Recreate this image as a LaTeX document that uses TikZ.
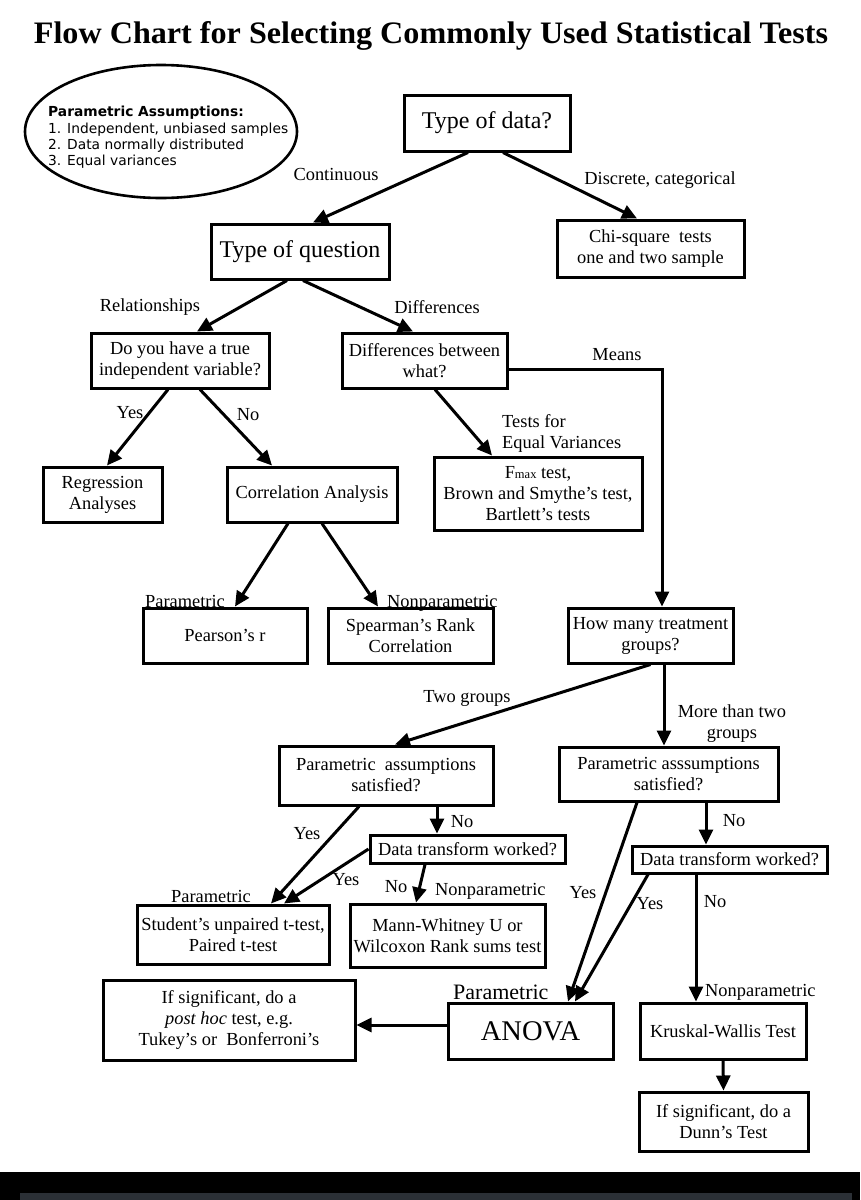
\documentclass[tikz,border=0pt]{standalone}
\usepackage{fontspec}
\setmainfont{Liberation Serif}
\newfontfamily\ellfont{DejaVu Sans}
\usetikzlibrary{arrows.meta,calc}

\definecolor{darkband}{HTML}{2B3036}
\newcommand{\boxfont}{\fontsize{18.4}{21}\selectfont}

\tikzset{
  box/.style={draw, line width=3pt, align=center, inner sep=1pt, fill=white, font=\boxfont},
  lbl/.style={inner sep=0pt, align=center, font=\boxfont},
  arr/.style={line width=3pt, -{Triangle[length=15pt,width=14pt]}},
}

\begin{document}
\begin{tikzpicture}[x=1pt,y=-1pt]
\useasboundingbox (0,0) rectangle (860,1200);

\node (title) at (431,35.5) {\resizebox{794pt}{22pt}{\bfseries Flow Chart for Selecting Commonly Used Statistical Tests}};

% assumptions
\draw[line width=2.6pt] (161,131.5) ellipse [x radius=136, y radius=66.5];
\node[align=left, inner sep=0pt, anchor=west, font=\ellfont\fontsize{13.8}{16.3}\selectfont] (assume) at (48,137.5)
  {\textbf{Parametric Assumptions:}\\1. Independent, unbiased samples\\2. Data normally distributed\\3. Equal variances};

% boxes
\node[box, minimum width=166pt, minimum height=56pt, font=\fontsize{24}{28}\selectfont] (data) at (487,123) {Type of data?};
\node[box, minimum width=178pt, minimum height=55pt, font=\fontsize{24}{28}\selectfont] (question) at (300,251.5) {Type of question};
\node[box, minimum width=187pt, minimum height=57pt] (chi) at (650.5,248.5) {Chi-square\ \ tests\\one and two sample};
\node[box, minimum width=178pt, minimum height=55pt] (truevar) at (180,360.5) {Do you have a true\\independent variable?};
\node[box, minimum width=165pt, minimum height=55pt] (between) at (424.5,360.5) {Differences between\\what?};
\node[box, minimum width=119pt, minimum height=55pt] (regress) at (102.5,494.5) {Regression\\Analyses};
\node[box, minimum width=170pt, minimum height=55pt] (corr) at (312,494.5) {Correlation Analysis};
\node[box, minimum width=208pt, minimum height=73pt] (fmax) at (538,493.5) {F{\fontsize{12.5}{14}\selectfont max} test,\\Brown and Smythe’s test,\\Bartlett’s tests};
\node[box, minimum width=164pt, minimum height=55pt] (pearson) at (225,635.5) {Pearson’s r};
\node[box, minimum width=165pt, minimum height=55pt] (spearman) at (410.5,635.5) {Spearman’s Rank\\Correlation};
\node[box, minimum width=165pt, minimum height=55pt] (howmany) at (650.5,635.5) {How many treatment\\groups?};
\node[box, minimum width=214pt, minimum height=59pt] (assume2) at (386,775.5) {Parametric\ \ assumptions\\satisfied?};
\node[box, minimum width=219pt, minimum height=54pt] (assume3) at (668.5,774) {Parametric asssumptions\\satisfied?};
\node[box, minimum width=195pt, minimum height=28pt] (transf2) at (467.5,849) {Data transform worked?};
\node[box, minimum width=195pt, minimum height=27pt] (transf3) at (729.5,859.5) {Data transform worked?};
\node[box, minimum width=192pt, minimum height=59pt] (student) at (233,934.5) {Student’s unpaired t-test,\\Paired t-test};
\node[box, minimum width=195pt, minimum height=63pt] (mann) at (447.5,935.5) {Mann-Whitney U or\\Wilcoxon Rank sums test};
\node[box, minimum width=252pt, minimum height=80pt] (posthoc) at (229,1020) {If significant, do a\\\textit{post hoc} test, e.g.\\Tukey’s or\ \ Bonferroni’s};
\node[box, minimum width=165pt, minimum height=56pt, font=\fontsize{28.5}{32}\selectfont] (anova) at (530.5,1031) {ANOVA};
\node[box, minimum width=166pt, minimum height=56pt] (kruskal) at (723,1031) {Kruskal-Wallis Test};
\node[box, minimum width=169pt, minimum height=59pt] (dunn) at (723.5,1121.5) {If significant, do a\\Dunn’s Test};

% labels
\node[lbl] (lcont) at (336,174) {Continuous};
\node[lbl] (ldisc) at (660,180) {Discrete, categorical};
\node[lbl] (lrel) at (150,307) {Relationships};
\node[lbl] (ldiff) at (437,307) {Differences};
\node[lbl] (lyes1) at (130,413) {Yes};
\node[lbl] (lno1) at (248,415) {No};
\node[lbl, align=left, anchor=west] (lequal) at (502,433) {Tests for\\Equal Variances};
\node[lbl] (lmeans) at (617,355) {Means};
\node[lbl, anchor=base west] (lpar1) at (145,607) {Parametric};
\node[lbl, anchor=base west] (lnonpar1) at (387,607) {Nonparametric};
\node[lbl] (ltwo) at (467,698) {Two groups};
\node[lbl] (lmore) at (732,724) {More than two\\groups};
\node[lbl] (lno2) at (462,822) {No};
\node[lbl] (lyes2) at (307,834) {Yes};
\node[lbl] (lyes3) at (346,880) {Yes};
\node[lbl] (lno3) at (396,887) {No};
\node[lbl, anchor=west] (lnonpar2) at (435,891) {Nonparametric};
\node[lbl, anchor=base west] (lpar2) at (171,902) {Parametric};
\node[lbl] (lno4) at (734,821) {No};
\node[lbl] (lyes4) at (583,893) {Yes};
\node[lbl] (lyes5) at (650,904) {Yes};
\node[lbl] (lno5) at (715,902) {No};
\node[lbl, anchor=west] (lnonpar3) at (705,992) {Nonparametric};
\node[lbl, anchor=west, font=\fontsize{22}{26}\selectfont] (lpar3) at (453,992) {Parametric};

% connectors
\draw[arr] ($(data.south)+(-19,0)$) -- ($(question.north)+(13,0)$);
\draw[arr] ($(data.south)+(16,0)$) -- ($(chi.north)+(-13.5,0)$);
\draw[arr] ($(question.south)+(-13,0)$) -- ($(truevar.north)+(17,0)$);
\draw[arr] ($(question.south)+(3,0)$) -- ($(between.north)+(-11.5,0)$);
\draw[arr] ($(truevar.south)+(-12,0)$) -- ($(regress.north)+(4.5,0)$);
\draw[arr] ($(truevar.south)+(20,0)$) -- ($(corr.north)+(-40,0)$);
\draw[arr] ($(corr.south)+(-24,0)$) -- ($(pearson.north)+(10,0)$);
\draw[arr] ($(corr.south)+(10,0)$) -- ($(spearman.north)+(-32.5,0)$);
\draw[arr] ($(between.south)+(10.5,0)$) -- ($(fmax.north)+(-46,0)$);
\draw[arr] ($(between.east)+(0,8.5)$) -| ($(howmany.north)+(11.5,0)$);
\draw[arr] (howmany.south) -- ($(assume2.north)+(9,0)$);
\draw[arr] ($(howmany.south)+(13.5,0)$) -- ($(assume3.north)+(-4.5,0)$);
\draw[arr] ($(assume2.south)+(51,0)$) -- ($(transf2.north)+(-30.5,0)$);
\draw[arr] ($(assume2.south)+(-27,0)$) -- ($(student.north)+(38,0)$);
\draw[arr] (transf2.west) -- ($(student.north)+(51,0)$);
\draw[arr] ($(transf2.south)+(-42.5,0)$) -- ($(mann.north)+(-31.5,0)$);
\draw[arr] ($(assume3.south)+(37.5,0)$) -- ($(transf3.north)+(-23.5,0)$);
\draw[arr] ($(assume3.south)+(-31.5,0)$) -- ($(anova.north)+(37.5,0)$);
\draw[arr] ($(transf3.south)+(-81.5,0)$) -- ($(anova.north)+(44.5,0)$);
\draw[arr] ($(transf3.south)+(-33.5,0)$) -- ($(kruskal.north)+(-27,0)$);
\draw[arr] ($(anova.west)+(0,-6)$) -- ($(posthoc.east)+(0,5)$);
\draw[arr] (kruskal.south) -- (dunn.north);

% bottom band
\fill[black] (0,1172) rectangle (860,1200);
\fill[darkband] (20,1193) rectangle (852,1200);
\end{tikzpicture}
\end{document}
